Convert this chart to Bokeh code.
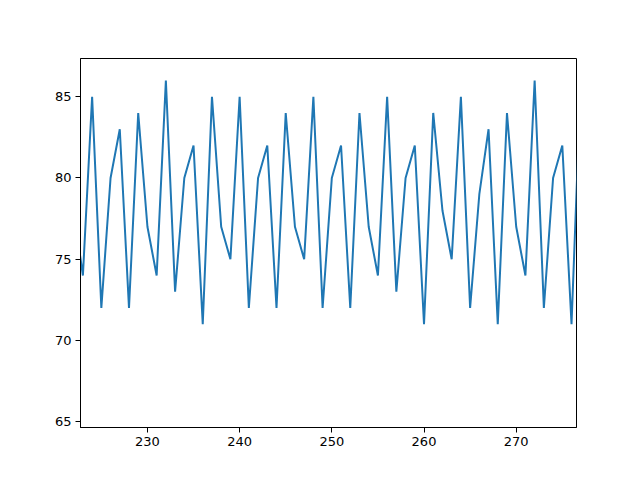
from bokeh.plotting import figure
from bokeh.models import Range1d, FixedTicker
from bokeh.embed import file_html
from bokeh.resources import INLINE

x_vals = list(range(222, 278))
y_vals = [78, 74, 85, 72, 80, 83, 72, 84, 77, 74,
          86, 73, 80, 82, 71, 85, 77, 75, 85, 72,
          80, 82, 72, 84, 77, 75, 85, 72, 80, 82,
          72, 84, 77, 74, 85, 73, 80, 82, 71, 84,
          78, 75, 85, 72, 79, 83, 71, 84, 77, 74,
          86, 72, 80, 82, 71, 86]
x_ticks = [230, 240, 250, 260, 270]
y_ticks = [65, 70, 75, 80, 85]

p = figure(frame_width=496, frame_height=369,
           min_border_left=80, min_border_right=56,
           min_border_top=58, min_border_bottom=45,
           x_range=Range1d(222.74, 276.54), y_range=Range1d(64.65, 87.35),
           output_backend="svg", toolbar_location=None)

p.line(x_vals, y_vals, line_color="#1f77b4", line_width=2)

p.xgrid.visible = False
p.ygrid.visible = False
p.outline_line_color = "black"
p.outline_line_width = 1
p.outline_line_alpha = 1

for ax, ticks in ((p.xaxis, x_ticks), (p.yaxis, y_ticks)):
    ax.ticker = FixedTicker(ticks=ticks)
    ax.minor_tick_line_color = None
    ax.major_tick_in = 0
    ax.major_tick_out = 5
    ax.major_tick_line_color = "black"
    ax.axis_line_color = "black"
    ax.major_label_text_font = "DejaVu Sans"
    ax.major_label_text_font_size = "13px"
    ax.major_label_text_color = "black"
    ax.major_label_standoff = 4

p.background_fill_color = "white"
p.border_fill_color = "white"

open("out.html", "w").write(file_html(p, INLINE))
